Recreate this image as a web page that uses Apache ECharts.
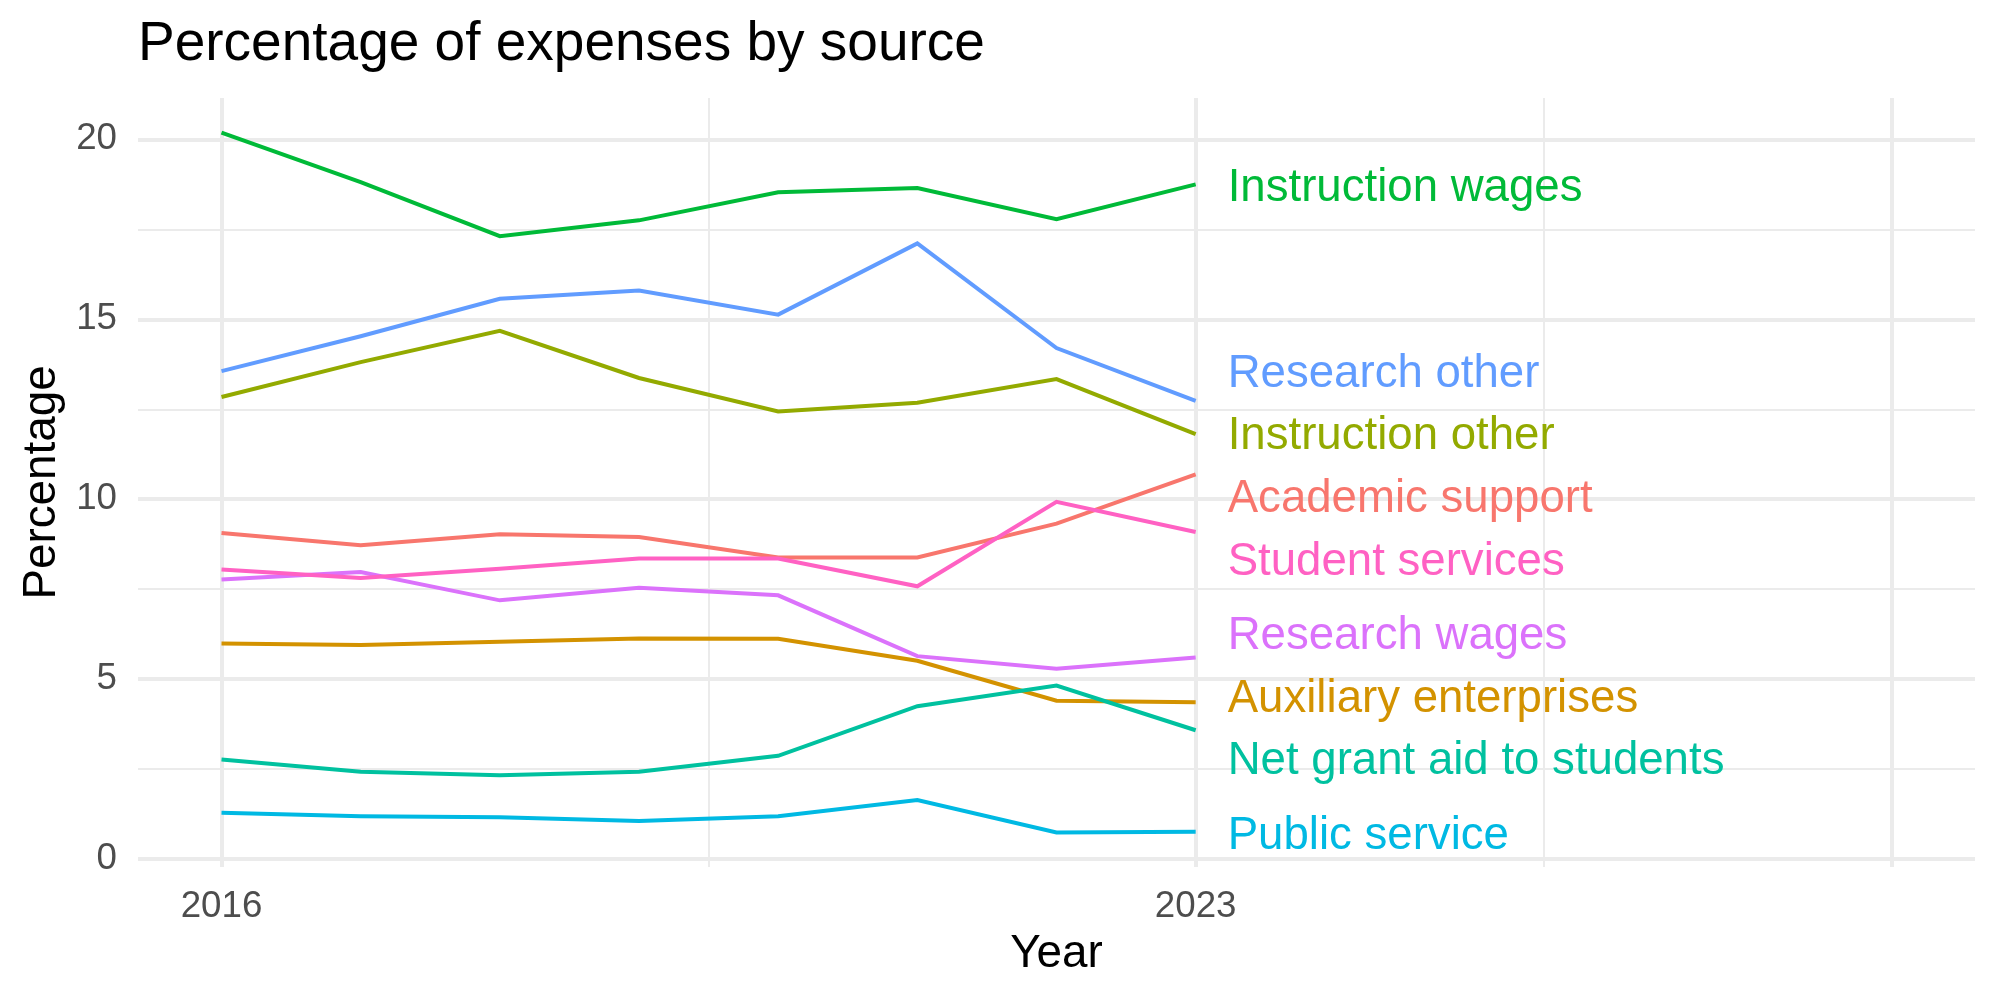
<!DOCTYPE html>
<html>
<head>
<meta charset="utf-8">
<title>Percentage of expenses by source</title>
<script src="https://cdn.jsdelivr.net/npm/echarts@6/dist/echarts.min.js"></script>
<style>
  html, body { margin: 0; padding: 0; background: #fff; }
  #main { width: 2000px; height: 1000px; }
</style>
</head>
<body>
<div id="main"></div>
<script>
// years on the x axis
var years = [2016, 2017, 2018, 2019, 2020, 2021, 2022, 2023];

// series names, alphabetical like the ggplot legend order
var sources = ['Academic support', 'Auxiliary enterprises', 'Instruction other', 'Instruction wages',
  'Net grant aid to students', 'Public service', 'Research other', 'Research wages', 'Student services'];

// values (percent)
var academicSupport   = [9.06, 8.72, 9.03, 8.95, 8.38, 8.38, 9.32, 10.69];
var auxiliaryEnt      = [5.99, 5.95, 6.04, 6.13, 6.12, 5.51, 4.40, 4.36];
var instructionOther  = [12.84, 13.81, 14.68, 13.37, 12.44, 12.68, 13.34, 11.81];
var instructionWages  = [20.19, 18.81, 17.31, 17.75, 18.53, 18.65, 17.78, 18.75];
var netGrantAid       = [2.77, 2.43, 2.33, 2.43, 2.87, 4.25, 4.82, 3.58];
var publicService     = [1.29, 1.19, 1.16, 1.06, 1.19, 1.64, 0.74, 0.76];
var researchOther     = [13.56, 14.53, 15.57, 15.80, 15.13, 17.11, 14.20, 12.73];
var researchWages     = [7.77, 7.98, 7.19, 7.54, 7.33, 5.64, 5.29, 5.60];
var studentServices   = [8.05, 7.81, 8.07, 8.35, 8.35, 7.58, 9.93, 9.09];

// where the repelled end labels sit (in percent units)
var labelYear = 2023.23;
var labelY = [9.99, 4.45, 11.74, 18.64, 2.71, 0.62, 13.47, 6.20, 8.25];

// axis breaks
var xLabels = [2016, 2023];
var xMajor = [2016, 2023, 2028];
var xMinor = [2019.5, 2025.5];
var yMajor = [0, 5, 10, 15, 20];
var yMinor = [2.5, 7.5, 12.5, 17.5];

var colors = ['#F8766D', '#D39200', '#93AA00', '#00BA38', '#00C19F', '#00B9E3', '#619CFF', '#DB72FB', '#FF61C3'];
var values = [academicSupport, auxiliaryEnt, instructionOther, instructionWages, netGrantAid,
  publicService, researchOther, researchWages, studentServices];

var FONT = '"Liberation Sans", Arial, Helvetica, sans-serif';

function $each(arr, fn) { for (var i = 0; i < arr.length; i++) fn(arr[i], i); }

var myChart = echarts.init(document.getElementById('main'), null, { renderer: 'canvas' });

// gridlines drawn as markLines so irregular breaks are possible
var gridData = [];
$each(xMajor, function (v) { gridData.push({ xAxis: v, lineStyle: { width: 4 } }); });
$each(xMinor, function (v) { gridData.push({ xAxis: v, lineStyle: { width: 2 } }); });
$each(yMajor, function (v) { gridData.push({ yAxis: v, lineStyle: { width: 4 } }); });
$each(yMinor, function (v) { gridData.push({ yAxis: v, lineStyle: { width: 2 } }); });

var series = [{
  name: 'grid',
  type: 'line',
  data: [],
  z: 0,
  silent: true,
  markLine: {
    z: 0,
    silent: true,
    animation: false,
    symbol: ['none', 'none'],
    label: { show: false },
    lineStyle: { color: '#EBEBEB', type: 'solid', opacity: 1 },
    emphasis: { disabled: true },
    data: gridData
  }
}];

$each(sources, function (name, i) {
  var pts = [];
  $each(years, function (y, j) { pts.push([y, values[i][j]]); });
  series.push({
    name: name,
    type: 'line',
    z: 3,
    data: pts,
    showSymbol: false,
    symbol: 'none',
    lineStyle: { width: 4, color: colors[i], opacity: 1, cap: 'butt', join: 'miter' },
    itemStyle: { color: colors[i] },
    emphasis: { disabled: true },
    silent: true
  });
});

// end labels
var labelPts = [];
$each(sources, function (name, i) {
  labelPts.push({
    value: [labelYear, labelY[i]],
    name: name,
    label: { color: colors[i] }
  });
});
series.push({
  name: 'labels',
  type: 'scatter',
  z: 6,
  symbolSize: 0,
  silent: true,
  itemStyle: { opacity: 1 },
  data: labelPts,
  label: {
    show: true,
    position: 'right',
    distance: 0,
    formatter: '{b}',
    fontFamily: FONT,
    fontSize: 45.6,
    opacity: 1,
    textBorderWidth: 0,
    align: 'left',
    verticalAlign: 'middle'
  },
  emphasis: { disabled: true }
});

var option = {
  animation: false,
  backgroundColor: '#ffffff',
  title: {
    text: 'Percentage of expenses by source',
    left: 138,
    top: 17,
    padding: 0,
    textStyle: { fontFamily: FONT, fontSize: 55, fontWeight: 'normal', color: '#000000', lineHeight: 55 }
  },
  grid: { left: 138, right: 25, top: 98, bottom: 133, containLabel: false },
  xAxis: {
    type: 'value',
    min: 2015.4,
    max: 2028.6,
    name: 'Year',
    nameLocation: 'middle',
    nameGap: 64,
    nameTextStyle: { fontFamily: FONT, fontSize: 45.8, color: '#000000' },
    axisLine: { show: false },
    axisTick: { show: false },
    splitLine: { show: false },
    axisLabel: {
      customValues: xLabels,
      margin: 21,
      fontFamily: FONT,
      fontSize: 36.7,
      color: '#4D4D4D',
      formatter: function (v) { return String(v); }
    }
  },
  yAxis: {
    type: 'value',
    min: -0.22,
    max: 21.15,
    name: 'Percentage',
    nameLocation: 'middle',
    nameRotate: 90,
    nameGap: 64,
    nameTextStyle: { fontFamily: FONT, fontSize: 45.8, color: '#000000' },
    axisLine: { show: false },
    axisTick: { show: false },
    splitLine: { show: false },
    axisLabel: {
      customValues: yMajor,
      margin: 21,
      fontFamily: FONT,
      fontSize: 36.7,
      color: '#4D4D4D',
      verticalAlign: 'middle',
      padding: [6, 0, 0, 0]
    }
  },
  series: series
};

myChart.setOption(option);
</script>
</body>
</html>
